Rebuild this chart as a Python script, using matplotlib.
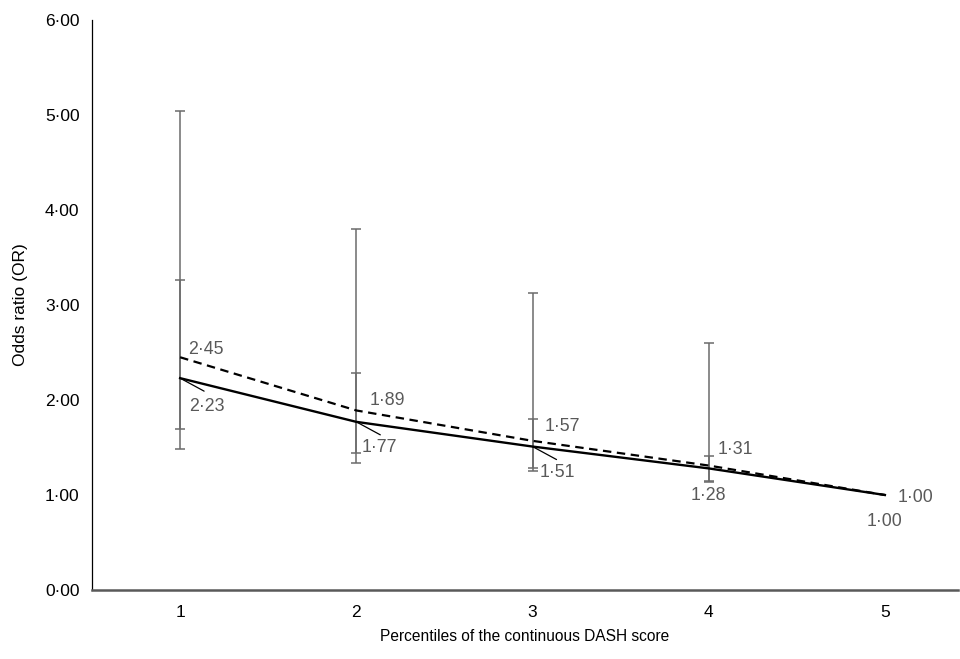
import matplotlib.pyplot as plt

plt.rcParams['font.family'] = ['Liberation Sans', 'DejaVu Sans']

# Percentile groups of the DASH score
percentiles = [1, 2, 3, 4, 5]

# Odds ratios (solid and dashed series)
or_solid = [2.23, 1.77, 1.51, 1.28, 1.00]
or_dashed = [2.45, 1.89, 1.57, 1.31, 1.00]

# 95% CI (reference group 5 has none)
ci_x = [1, 2, 3, 4]
ci_solid_low = [1.70, 1.44, 1.28, 1.15]
ci_solid_high = [3.26, 2.28, 1.80, 1.41]
ci_dashed_low = [1.48, 1.34, 1.25, 1.14]
ci_dashed_high = [5.04, 3.80, 3.13, 2.60]

y_ticks = [0, 1, 2, 3, 4, 5, 6]


def fmt(v):
    return f"{v:.2f}".replace('.', '\u00b7')


def plot_or_chart():
    fig = plt.figure(figsize=(9.6, 6.59), dpi=100)
    W, H = 960, 659
    ax = fig.add_axes([92 / W, 1 - 590 / H, (958 - 92) / W, (590 - 20) / H])

    grey = '#595959'
    bar_col = '#6b6b6b'

    # error bars
    for lo, hi, pt in [(ci_dashed_low, ci_dashed_high, or_dashed),
                       (ci_solid_low, ci_solid_high, or_solid)]:
        est = pt[:len(ci_x)]
        ax.errorbar(ci_x, est,
                    yerr=[[e - l for e, l in zip(est, lo)], [h - e for e, h in zip(est, hi)]],
                    fmt='none', ecolor=bar_col, elinewidth=1.1, capsize=3.3, capthick=1.1,
                    zorder=2)

    ax.plot(percentiles, or_dashed, color='black', lw=1.6, linestyle=(0, (3.8, 2.5)), zorder=3)
    ax.plot(percentiles, or_solid, color='black', lw=1.7, zorder=3)

    px = 0.72  # points per pixel
    # label offsets in pixels (dx, dy up)
    dashed_off = [(26, 8), (31, 10), (30, 14), (27, 16), (31, -2)]
    solid_off = [(27, -28), (23, -26), (25, -26), (0, -27), (0, -27)]
    for x, v, (dx, dy) in zip(percentiles, or_dashed, dashed_off):
        ax.annotate(fmt(v), (x, v), xytext=(dx * px, dy * px), textcoords='offset points',
                    ha='center', va='center', fontsize=12.8, color=grey)
    for x, v, (dx, dy) in zip(percentiles, or_solid, solid_off):
        ax.annotate(fmt(v), (x, v), xytext=(dx * px, dy * px), textcoords='offset points',
                    ha='center', va='center', fontsize=12.8, color=grey)

    # leader lines for first three solid labels
    for x, v in zip(percentiles[:3], or_solid[:3]):
        ax.annotate('', xy=(x, v), xytext=(24 * px, -13 * px), textcoords='offset points',
                    arrowprops=dict(arrowstyle='-', color='black', lw=0.9,
                                    shrinkA=0, shrinkB=0))

    ax.set_xlim(0.5, 1 + (958 - 181) / 176)
    ax.set_ylim(0, 6)
    ax.set_xticks(percentiles)
    ax.set_xticklabels([str(p) for p in percentiles])
    ax.set_yticks(y_ticks)
    ax.set_yticklabels([fmt(t) for t in y_ticks])
    ax.tick_params(axis='both', length=0, labelsize=12.5, colors='black')
    ax.tick_params(axis='y', pad=9)
    ax.tick_params(axis='x', pad=11)

    for s in ['top', 'right']:
        ax.spines[s].set_visible(False)
    ax.spines['left'].set_color('black')
    ax.spines['left'].set_linewidth(0.9)
    ax.spines['bottom'].set_color(grey)
    ax.spines['bottom'].set_linewidth(1.8)

    ax.set_xlabel('Percentiles of the continuous DASH score', fontsize=11.2, labelpad=6)
    ax.set_ylabel('Odds ratio (OR)', fontsize=12.5, labelpad=12)

    fig.savefig('out.png', dpi=100)


if __name__ == "__main__":
    plot_or_chart()
